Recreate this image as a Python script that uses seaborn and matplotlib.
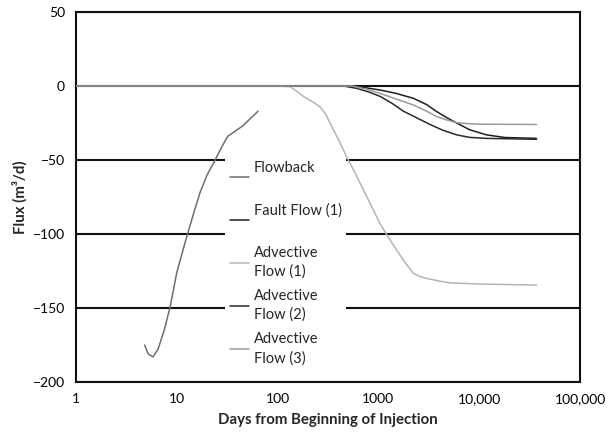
import matplotlib
matplotlib.use('Agg')
import matplotlib.pyplot as plt
import pandas as pd
import seaborn as sns
from matplotlib.ticker import FixedLocator, NullLocator

# valores (días, m3/d)
flowback_days = [4.8, 5.2, 5.8, 6.5, 7.5, 8.6, 10, 11.5, 12.9, 15, 17, 20, 24, 28, 32, 45, 64]
flowback_flux = [-175, -181, -183, -178, -165, -149, -126, -111, -99, -84, -72, -60, -50, -41, -34, -27, -17]

fault1_days = [1, 500, 650, 800, 1038, 1500, 2220, 3000, 3790, 4800, 5980, 8000, 11800, 18000, 37000]
fault1_flux = [0, 0, -0.5, -1.5, -2.7, -5, -8.3, -12.5, -17.3, -21.5, -25, -29.5, -33, -34.8, -35.4]

adv1_days = [1, 95, 115, 133, 155, 180, 220, 263, 300, 331, 400, 485, 590, 708, 850, 1038,
             1250, 1520, 1850, 2220, 2600, 3020, 4000, 5150, 10000, 37000]
adv1_flux = [0, 0, -0.2, -0.5, -3.5, -7, -10.5, -14, -19, -25, -36, -48, -59, -70, -81, -93,
             -102, -111, -119.5, -126.6, -128.8, -130, -131.8, -133, -133.8, -134.5]

adv2_days = [1, 450, 610, 800, 1038, 1350, 1770, 2400, 3250, 4400, 5980, 8000, 11800, 37000]
adv2_flux = [0, 0, -1.6, -4, -7, -11.5, -17, -21.5, -26, -30, -33, -34.7, -35.4, -36]

adv3_days = [1, 550, 750, 1038, 1500, 2220, 3000, 3790, 4800, 5980, 8000, 10000, 37000]
adv3_flux = [0, 0, -2, -5, -8.8, -12.8, -17, -20.7, -23, -24.8, -25.5, -25.8, -26]

labels = ['Flowback', 'Fault Flow (1)', 'Advective\nFlow (1)', 'Advective\nFlow (2)', 'Advective\nFlow (3)']
colors = ['#6e6e6e', '#1e1e1e', '#b4b4b4', '#2a2a2a', '#9a9a9a']

x_ticks = [1, 10, 100, 1000, 10000, 100000]
x_ticklabels = ['1', '10', '100', '1000', '10,000', '100,000']
y_ticks = [50, 0, -50, -100, -150, -200]

sns.set_style('white')
plt.rcParams['font.family'] = ['Lato', 'DejaVu Sans']

fig = plt.figure(figsize=(6.11, 4.38), dpi=100)
ax = fig.add_axes([76 / 611, 1 - 382 / 438, 504 / 611, 370 / 438])

for yv in y_ticks:
    ax.axhline(yv, color='#111111', lw=1.5, zorder=1)

series = [(flowback_days, flowback_flux), (fault1_days, fault1_flux), (adv1_days, adv1_flux),
          (adv2_days, adv2_flux), (adv3_days, adv3_flux)]
for (d, f), lab, c in zip(series, labels, colors):
    df = pd.DataFrame({'days': d, 'flux': f})
    # etiquetas de una línea con línea vacía para igualar el alto de las demás
    lab_2 = lab if '\n' in lab else lab + '\n '
    sns.lineplot(data=df, x='days', y='flux', ax=ax, color=c, lw=1.1, label=lab_2,
                 estimator=None, sort=False, zorder=3)

ax.set_xscale('log')
ax.set_xlim(1, 100000)
ax.set_ylim(-200, 50)
ax.xaxis.set_major_locator(FixedLocator(x_ticks))
ax.xaxis.set_minor_locator(NullLocator())
ax.set_xticks(x_ticks, x_ticklabels)
ax.set_yticks(y_ticks)
ax.tick_params(axis='both', length=0, pad=8, labelsize=10, colors='black')

for sp in ax.spines.values():
    sp.set_color('#111111')
    sp.set_linewidth(1.5)

ax.set_xlabel('Days from Beginning of Injection', fontsize=10.8, fontweight='bold', labelpad=6)
ax.set_ylabel('Flux (m³/d)', fontsize=10.8, fontweight='bold', labelpad=4)

leg = ax.legend(loc='upper left', bbox_to_anchor=(0.296, 0.61), fontsize=10.5,
                frameon=True, facecolor='white', edgecolor='none', framealpha=1,
                handlelength=1.3, handletextpad=0.35, labelspacing=0.7,
                borderpad=0.3, borderaxespad=0)
for t in leg.get_texts():
    t.set_linespacing(1.4)
leg.set_zorder(5)

fig.savefig('out.png', dpi=100)
